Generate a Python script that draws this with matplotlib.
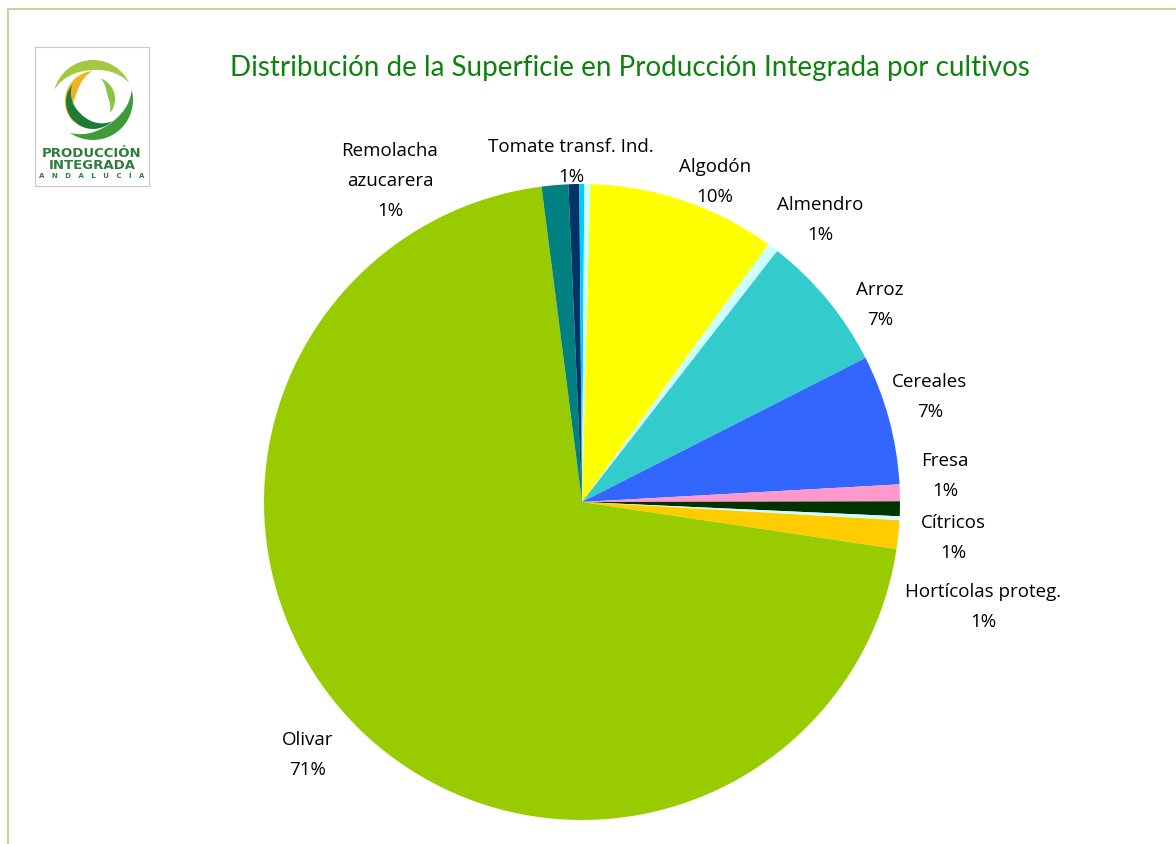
import matplotlib
matplotlib.use("Agg")
import numpy as np
from matplotlib import pyplot as plt
from matplotlib.patches import Rectangle, Polygon

# data: share of area (%) clockwise from the top
cultivos = ["Algodón", "Almendro", "Arroz", "Cereales", "Fresa", "Cítricos", "",
            "Hortícolas proteg.", "Olivar", "Remolacha\nazucarera",
            "Tomate transf. Ind.", "", ""]
superficie = [9.55, 0.55, 7.0, 6.6, 0.85, 0.75, 0.2, 1.45, 70.6, 1.35, 0.55, 0.25, 0.3]
colores = ["#FFFF00", "#CCFFFF", "#33CCCC", "#3366FF", "#FF99CC", "#003300", "#CCFFFF",
           "#FFCC00", "#99CC00", "#008080", "#003366", "#00CCFF", "#CCFFFF"]

# label positions (pie radius = 1)
pos_etiquetas = [(0.418, 1.009), (0.748, 0.890), (0.937, 0.623), (1.094, 0.333),
                 (1.142, 0.085), (1.167, -0.110), None, (1.261, -0.327),
                 (-0.862, -0.792), (-0.604, 1.013), (-0.035, 1.072), None, None]

W, H = 1176, 845
cx, cy, R = 582, 503, 318

fig = plt.figure(figsize=(W / 100, H / 100), dpi=100)
fig.patch.set_facecolor("white")

# light green frame
fig.patches.append(Rectangle((8 / W, -0.1), 1.2, 1 - 10 / H + 0.1, transform=fig.transFigure,
                             fill=False, edgecolor="#C4D79B", linewidth=1.5))

ax = fig.add_axes([0, 0, 1, 1])
ax.pie(superficie, colors=colores, startangle=90 - 1.5, counterclock=False,
       wedgeprops=dict(linewidth=0))
ax.set_xlim(-cx / R, (W - cx) / R)
ax.set_ylim(-(H - cy) / R, cy / R)
ax.set_aspect("auto")
ax.axis("off")

total = sum(superficie)
for nombre, v, p in zip(cultivos, superficie, pos_etiquetas):
    if p is None:
        continue
    ax.text(p[0], p[1], "%s\n%.0f%%" % (nombre, 100 * v / total), ha="center", va="center",
            fontsize=13.5, family="Open Sans", linespacing=1.85, color="black")

fig.text(630 / W, 1 - 68 / H, "Distribución de la Superficie en Producción Integrada por cultivos",
         ha="center", va="center", fontsize=20, color="#0E820E", family="Lato")

# logo
lg = fig.add_axes([35 / W, 1 - 187 / H, 114 / W, 139 / H])
lg.set_xlim(0, 114)
lg.set_ylim(139, 0)
lg.set_xticks([])
lg.set_yticks([])
for s in lg.spines.values():
    s.set_edgecolor("#C8C8C8")


def creciente(x0, y0, r, a1, a2, w, color):
    t = np.linspace(0, 1, 60)
    a = np.radians(a1 + (a2 - a1) * t)
    ri = r - w * np.sin(np.pi * t)
    xs = np.concatenate([x0 + r * np.cos(a), (x0 + ri * np.cos(a))[::-1]])
    ys = np.concatenate([y0 - r * np.sin(a), (y0 - ri * np.sin(a))[::-1]])
    lg.add_patch(Polygon(np.column_stack([xs, ys]), closed=True, color=color, linewidth=0))


creciente(58, 53, 40, 25, 165, 10, "#A3C940")
creciente(60, 54, 30, 95, 225, 10, "#F2B322")
creciente(58, 55, 27, 140, 315, 10, "#1F7A34")
creciente(58, 53, 40, -125, 15, 11, "#3F9B3A")
creciente(58, 52, 22, -40, 70, 7, "#8CC43F")

lg.text(57, 106, "PRODUCCIÓN", ha="center", va="center", fontsize=9.5,
        fontweight="bold", color="#2E7D3A", family="DejaVu Sans")
lg.text(57, 118, "INTEGRADA", ha="center", va="center", fontsize=9.5,
        fontweight="bold", color="#2E7D3A", family="DejaVu Sans")
lg.text(57, 128, "A   N   D   A   L   U   C   Í   A", ha="center", va="center", fontsize=5,
        fontweight="bold", color="#2E7D3A", family="DejaVu Sans")

fig.savefig("out.png", dpi=100)
